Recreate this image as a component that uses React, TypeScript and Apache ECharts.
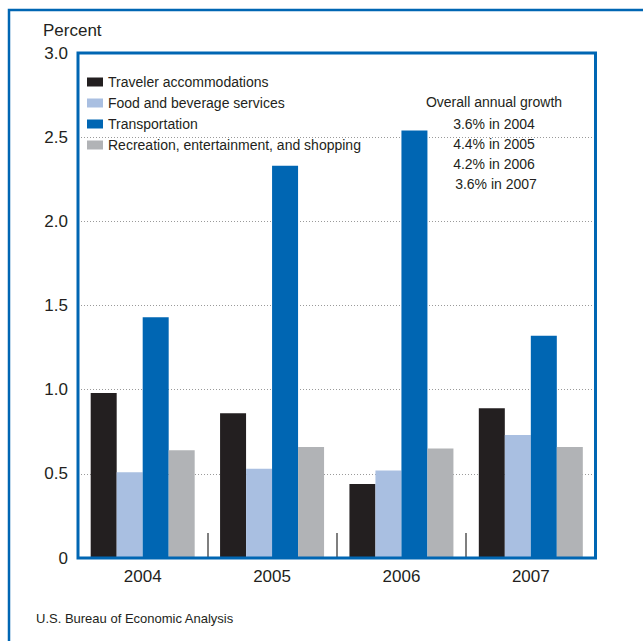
import React, { useEffect, useRef } from "react";
import * as echarts from "echarts";

const years = ["2004", "2005", "2006", "2007"];
const seriesNames = [
  "Traveler accommodations",
  "Food and beverage services",
  "Transportation",
  "Recreation, entertainment, and shopping",
];
const accommodations = [0.98, 0.86, 0.44, 0.89];
const foodBeverage = [0.51, 0.53, 0.52, 0.73];
const transportation = [1.43, 2.33, 2.54, 1.32];
const recreation = [0.64, 0.66, 0.65, 0.66];
const seriesColors = ["#231f20", "#a9bfe1", "#0066b3", "#b1b3b6"];
const growthTitle = "Overall annual growth";
const growthLines = ["3.6% in 2004", "4.4% in 2005", "4.2% in 2006", "3.6% in 2007"];
const yTicks = [0, 0.5, 1.0, 1.5, 2.0, 2.5, 3.0];

const FONT = "'Liberation Sans', Arial, Helvetica, sans-serif";
const TEXT = "#231f20";
const BLUE = "#0066b3";

export default function App() {
  const ref = useRef<HTMLDivElement>(null);
  useEffect(() => {
    if (!ref.current) return;
    const chart = echarts.init(ref.current, null, { renderer: "svg" });
    const data = [accommodations, foodBeverage, transportation, recreation];
    const gridLeft = 78;
    const gridTop = 53;
    const gridW = 517.5;
    const gridH = 505;
    chart.setOption({
      animation: false,
      backgroundColor: "#ffffff",
      textStyle: { fontFamily: FONT },
      grid: {
        left: gridLeft,
        top: gridTop,
        width: gridW,
        height: gridH,
        show: false,
      },
      legend: {
        orient: "vertical",
        left: 87,
        top: 75,
        padding: 0,
        itemWidth: 16,
        itemHeight: 9,
        itemGap: 7,
        icon: "rect",
        data: seriesNames,
        textStyle: { fontSize: 14, color: TEXT, fontFamily: FONT },
        selectedMode: false,
      },
      xAxis: {
        type: "category",
        data: years,
        axisLine: { show: false },
        axisTick: {
          show: true,
          inside: true,
          length: 25,
          lineStyle: { color: "#555", width: 1.5 },
        },
        axisLabel: { fontSize: 17, color: TEXT, margin: 10, fontFamily: FONT },
      },
      yAxis: {
        type: "value",
        min: yTicks[0],
        max: yTicks[yTicks.length - 1],
        interval: 0.5,
        axisLine: { show: false },
        axisTick: { show: false },
        axisLabel: {
          fontSize: 17,
          color: TEXT,
          margin: 10,
          fontFamily: FONT,
          padding: [0, 0, 4, 0],
          formatter: (v: number) => (v === 0 ? "0" : v.toFixed(1)),
        },
        splitLine: {
          show: true,
          lineStyle: { color: "#9a9a9a", type: [1, 2], width: 1 },
        },
      },
      series: seriesNames.map((name, i) => ({
        name,
        type: "bar",
        data: data[i],
        barWidth: 26,
        barGap: "0%",
        itemStyle: { color: seriesColors[i] },
      })),
      graphic: [
        {
          type: "polyline",
          shape: { points: [[9, 641], [9, 10], [643, 10]] },
          style: { stroke: BLUE, lineWidth: 2.5, fill: "none" },
          z: 100,
        },
        {
          type: "rect",
          shape: { x: gridLeft, y: gridTop, width: gridW, height: gridH },
          style: { stroke: BLUE, lineWidth: 3, fill: "none" },
          z: 100,
        },
        {
          type: "text",
          left: 43,
          top: 22,
          style: { text: "Percent", fontSize: 17, fill: TEXT, fontFamily: FONT },
        },
        {
          type: "text",
          x: 494,
          y: 95,
          style: {
            text: growthTitle,
            fontSize: 14,
            fill: TEXT,
            fontFamily: FONT,
            textAlign: "center",
          },
        },
        ...growthLines.map((t, i) => ({
          type: "text",
          x: 494 + (i === 3 ? 2 : 0),
          y: 117 + i * 20,
          style: {
            text: t,
            fontSize: 14,
            fill: TEXT,
            fontFamily: FONT,
            textAlign: "center",
          },
        })),
        {
          type: "text",
          left: 36,
          top: 612,
          style: {
            text: "U.S. Bureau of Economic Analysis",
            fontSize: 13,
            fill: TEXT,
            fontFamily: FONT,
          },
        },
      ],
    });
    return () => chart.dispose();
  }, []);
  return <div ref={ref} style={{ width: 643, height: 641, position: "absolute", left: 0, top: 0 }} />;
}
